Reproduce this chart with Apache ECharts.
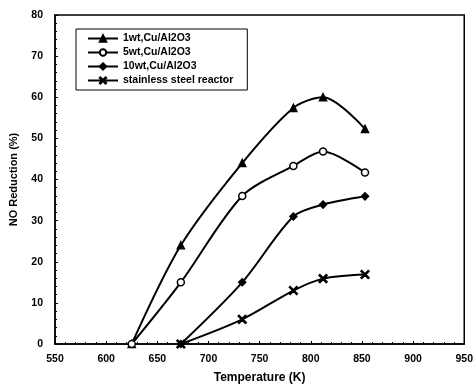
<!DOCTYPE html>
<html lang="en">
  <head>
    <meta charset="UTF-8" />
    <title>NO Reduction</title>
    <script src="https://cdn.jsdelivr.net/npm/echarts@6/dist/echarts.min.js"></script>
    <style>
      html, body { margin: 0; padding: 0; background: #fff; }
      #main { width: 476px; height: 389px; }
    </style>
  </head>
  <body>
    <div id="main"></div>
    <script>
      // temperatures (K)
      const tempsA = [625, 673, 733, 783, 812, 853];
      const tempsB = [673, 733, 783, 812, 853];
      // NO reduction (%)
      const oneWt = [0, 24, 44, 57.4, 60, 52.3];
      const fiveWt = [0, 15, 36, 43.3, 46.8, 41.7];
      const tenWt = [0, 15, 31, 33.9, 35.9];
      const steel = [0, 6, 13, 15.9, 16.9];

      const seriesNames = [
        "1wt,Cu/Al2O3",
        "5wt,Cu/Al2O3",
        "10wt,Cu/Al2O3",
        "stainless steel reactor",
      ];

      const crossPath =
        "path://M0,1L1,0L5,4L9,0L10,1L6,5L10,9L9,10L5,6L1,10L0,9L4,5Z";

      const pairs = (xs, ys) => xs.map((x, i) => [x, ys[i]]);

      const font = "Liberation Sans, Arial, sans-serif";

      const chart = echarts.init(document.getElementById("main"));

      const mkSeries = (name, data, symbol, size, fill) => ({
        name: name,
        type: "line",
        data: data,
        smooth: 0.3,
        symbol: symbol,
        symbolSize: size,
        showSymbol: true,
        lineStyle: { color: "#000", width: 2 },
        itemStyle: { color: fill, borderColor: "#000", borderWidth: 1.5 },
        emphasis: { disabled: true },
        z: 3,
      });

      chart.setOption({
        animation: false,
        textStyle: { fontFamily: font },
        grid: {
          left: 55,
          right: 10,
          top: 15,
          bottom: 45,
          show: true,
          borderColor: "#000",
          borderWidth: 1.5,
        },
        legend: {
          orient: "vertical",
          left: 76,
          top: 29,
          itemWidth: 30,
          itemHeight: 8,
          itemGap: 3,
          padding: [4, 14, 4, 11],
          borderColor: "#000",
          borderWidth: 1,
          textStyle: { fontSize: 10.5, fontWeight: "bold", color: "#000", fontFamily: font },
          data: seriesNames,
        },
        xAxis: {
          type: "value",
          min: 550,
          max: 950,
          interval: 50,
          name: "Temperature (K)",
          nameLocation: "middle",
          nameGap: 28,
          nameTextStyle: { fontSize: 12, fontWeight: "bold", color: "#000" },
          axisLine: { lineStyle: { color: "#000", width: 1.5 } },
          axisTick: { inside: true, length: 3, lineStyle: { color: "#000" } },
          minorTick: { show: true, splitNumber: 5, length: 2, lineStyle: { color: "#000" } },
          axisLabel: { fontSize: 10.5, fontWeight: "bold", color: "#000", margin: 10 },
          splitLine: { show: false },
        },
        yAxis: {
          type: "value",
          min: 0,
          max: 80,
          interval: 10,
          name: "NO Reduction (%)",
          nameLocation: "middle",
          nameGap: 36,
          nameTextStyle: { fontSize: 11, fontWeight: "bold", color: "#000" },
          axisLine: { lineStyle: { color: "#000", width: 1.5 } },
          axisTick: { inside: true, length: 3, lineStyle: { color: "#000" } },
          minorTick: { show: true, splitNumber: 5, length: 2, lineStyle: { color: "#000" } },
          axisLabel: { fontSize: 10.5, fontWeight: "bold", color: "#000", margin: 12 },
          splitLine: { show: false },
        },
        series: [
          mkSeries(seriesNames[0], pairs(tempsA, oneWt), "triangle", 7, "#000"),
          mkSeries(seriesNames[1], pairs(tempsA, fiveWt), "circle", 7, "#fff"),
          mkSeries(seriesNames[2], pairs(tempsB, tenWt), "diamond", 7, "#000"),
          mkSeries(seriesNames[3], pairs(tempsB, steel), crossPath, 8, "#000"),
        ],
      });
    </script>
  </body>
</html>
